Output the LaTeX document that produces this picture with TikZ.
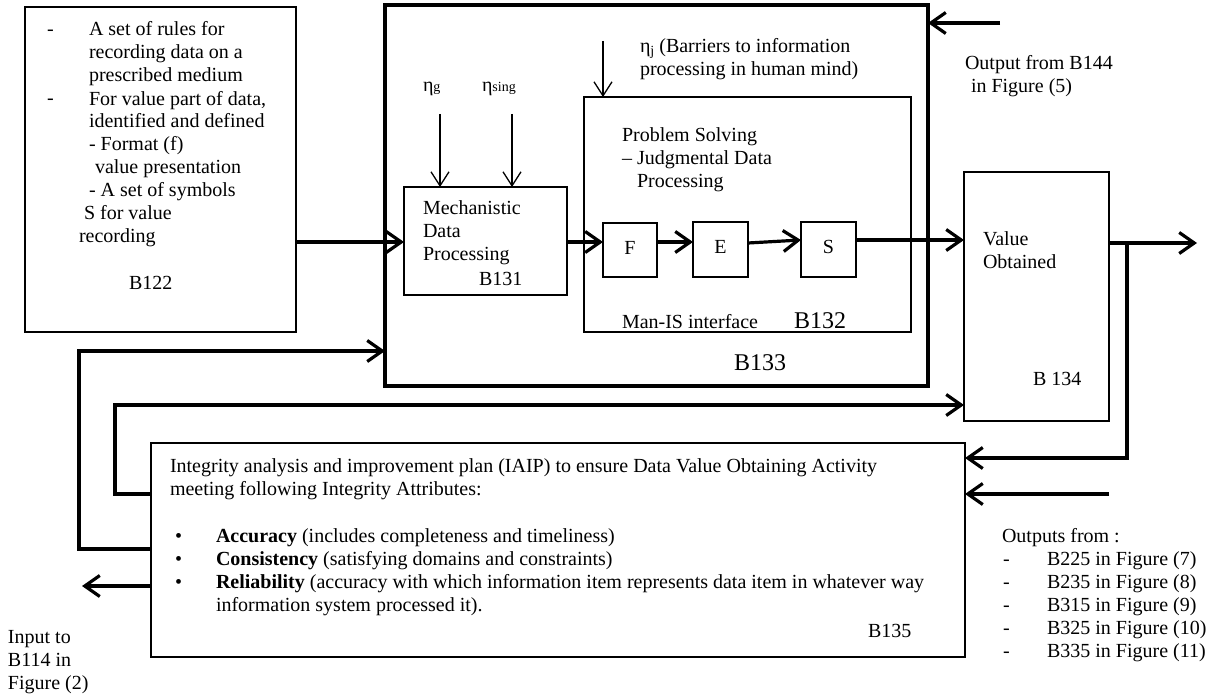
\documentclass[tikz,border=0pt]{standalone}
\usepackage{fontspec}
\setmainfont{Liberation Serif}
\usetikzlibrary{arrows.meta}
\newcommand{\subsm}[2][0pt]{\raisebox{#1}{\fontsize{14}{14}\selectfont #2}}
\begin{document}
\begin{tikzpicture}[x=1pt,y=-1pt,
  every node/.style={inner sep=0pt, outer sep=0pt},
  txt/.style={font=\fontsize{20}{23}\selectfont, anchor=base west, align=left},
  big/.style={font=\fontsize{24}{28}\selectfont, anchor=base west},
  box/.style={draw, line width=1.1pt, anchor=north west},
  thickbox/.style={draw, line width=3.4pt, anchor=north west},
  conn/.style={line width=3.2pt, -{Straight Barb[length=15pt,width=21pt]}},
  thinarrow/.style={line width=1.3pt, -{Straight Barb[length=14pt,width=18pt]}},
]
\useasboundingbox (0,0) rectangle (1216,695);

% boxes
\node[box, minimum width=271pt, minimum height=325pt] (b122) at (25,7) {};
\node[thickbox, minimum width=543pt, minimum height=381pt] (b133) at (385,5) {};
\node[box, minimum width=163pt, minimum height=108pt] (b131) at (404,187) {};
\node[box, minimum width=327pt, minimum height=235pt] (b132) at (584,97) {};
\node[box, minimum width=54pt, minimum height=54pt, font=\fontsize{20}{23}\selectfont] (f) at (603,223) {\raisebox{5pt}{F}};
\node[box, minimum width=55pt, minimum height=55pt, font=\fontsize{20}{23}\selectfont] (e) at (693,222) {\raisebox{5pt}{E}};
\node[box, minimum width=55pt, minimum height=55pt, font=\fontsize{20}{23}\selectfont] (s) at (801,222) {\raisebox{5pt}{S}};
\node[box, minimum width=145pt, minimum height=249pt] (b134) at (964,172) {};
\node[box, minimum width=814pt, minimum height=214pt] (b135) at (151,443) {};

% texts (anchor = baseline of the last line)
\node[txt] (t122d) at (47,105) {-\\[46pt]-};
\node[txt] (t122) at (89,243) {A set of rules for\\recording data on a\\prescribed medium\\For value part of data,\\identified and defined\\- Format (f)\\\hspace*{6pt}value presentation\\- A set of symbols\\\hspace*{-5pt}S for value\\\hspace*{-10pt}recording};
\node[txt] (l122) at (129,290) {B122};
\node[txt] (etag) at (423,92) {η\subsm{g}};
\node[txt] (etas) at (482,92) {η\subsm{sing}};
\node[txt] (etaj) at (640,76) {η\subsm[-3pt]{j} (Barriers to information\\processing in human mind)};
\node[txt] (tmech) at (423,261) {Mechanistic\\Data\\Processing};
\node[txt] (l131) at (479,285) {B131};
\node[txt] (tps) at (622,188) {Problem Solving\\– Judgmental Data\\\hspace*{15pt}Processing};
\node[txt] (tmis) at (622,328) {Man-IS interface};
\node[big] (l132) at (794,328) {B132};
\node[big] (l133) at (734,370) {B133};
\node[txt] (tout) at (965,93) {Output from B144\\\hspace*{6pt}in Figure (5)};
\node[txt] (tval) at (983,269) {Value\\Obtained};
\node[txt] (l134) at (1033,385) {B 134};
\node[txt] (tiaip) at (170,495) {Integrity analysis and improvement plan (IAIP) to ensure Data Value Obtaining Activity\\meeting following Integrity Attributes:};
\node[txt] (tbul) at (175,588) {•\\•\\•};
\node[txt] (tattr) at (216,611) {\textbf{Accuracy} (includes completeness and timeliness)\\\textbf{Consistency} (satisfying domains and constraints)\\\textbf{Reliability} (accuracy with which information item represents data item in whatever way\\information system processed it).};
\node[txt] (l135) at (868,637) {B135};
\node[txt] (tin) at (8,689) {Input to\\B114 in\\Figure (2)};
\node[txt] (touts) at (1002,542) {Outputs from :};
\node[txt] (toutd) at (1003,657) {-\\-\\-\\-\\-};
\node[txt] (touti) at (1047,657) {B225 in Figure (7)\\B235 in Figure (8)\\B315 in Figure (9)\\B325 in Figure (10)\\B335 in Figure (11)};

% free ends
\coordinate (topin) at (1000,23);
\coordinate (outend) at (1197,243);
\coordinate (branch) at (1127,243);
\coordinate (in2) at (1109,494);
\coordinate (inputend) at (82,586);
\coordinate (etagstart) at (440,114);
\coordinate (etasstart) at (512,114);
\coordinate (etajstart) at (603,41);

% connectors
\draw[conn] (b122.east |- 0,242) -- (b131.west |- 0,242);
\draw[conn] (b131.east |- 0,242) -- (f.west |- 0,242);
\draw[conn] (f.east |- 0,242) -- (e.west |- 0,242);
\draw[conn] (e.east |- 0,243) -- (s.west |- 0,240);
\draw[conn] (s.east |- 0,240) -- (b134.west |- 0,240);
\draw[conn] (b134.east |- 0,243) -- (outend);
\draw[conn] (branch) -- (branch |- 0,458) -- (b135.east |- 0,458);
\draw[conn] (in2) -- (b135.east |- 0,494);
\draw[conn] (b135.west |- 0,494) -- (115,494) -- (115,405) -- (b134.west |- 0,405);
\draw[conn] (b135.west |- 0,549) -- (79,549) -- (79,351) -- (b133.west |- 0,351);
\draw[conn] (b135.west |- 0,586) -- (inputend);
\draw[conn] (topin) -- (b133.east |- topin);
\draw[thinarrow] (etagstart) -- (b131.north -| etagstart);
\draw[thinarrow] (etasstart) -- (b131.north -| etasstart);
\draw[thinarrow] (etajstart) -- (b132.north -| etajstart);
\end{tikzpicture}
\end{document}
